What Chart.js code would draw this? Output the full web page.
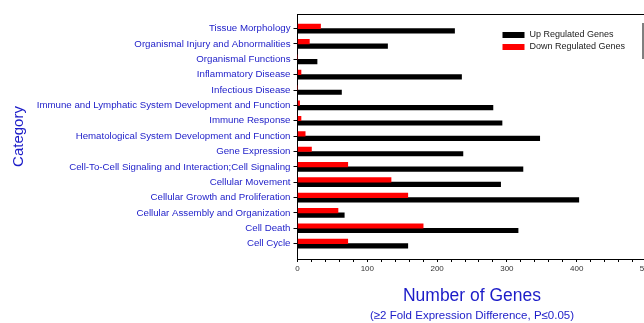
<!DOCTYPE html>
<html>
<head>
<meta charset="utf-8">
<script src="https://cdn.jsdelivr.net/npm/chart.js@4.4.0/dist/chart.umd.min.js"></script>
<style>
  html, body { margin: 0; padding: 0; background: #fff; overflow: hidden; }
  #wrap { width: 660px; height: 323px; }
</style>
</head>
<body>
<div id="wrap"><canvas id="c" width="660" height="323"></canvas></div>
<script>
// Functional categories, listed top to bottom
const categories = [
  'Tissue Morphology',
  'Organismal Injury and Abnormalities',
  'Organismal Functions',
  'Inflammatory Disease',
  'Infectious Disease',
  'Immune and Lymphatic System Development and Function',
  'Immune Response',
  'Hematological System Development and Function',
  'Gene Expression',
  'Cell-To-Cell Signaling and Interaction;Cell Signaling',
  'Cellular Movement',
  'Cellular Growth and Proliferation',
  'Cellular Assembly and Organization',
  'Cell Death',
  'Cell Cycle'
];

// Gene counts per category
const upRegulated   = [225, 129, 28, 235, 63, 280, 293, 347, 237, 323, 291, 403, 67, 316, 158];
const downRegulated = [33, 17, 0, 5, 0, 3, 5, 11, 20, 72, 134, 158, 58, 180, 72];

// Number-of-genes axis ticks (labelled) and minor tick step
const xTickLabels = [0, 100, 200, 300, 400, 500];
const xMinorStep = 20;

const BLUE = '#1c1cc8';
const FONT = 'Liberation Sans, Arial, sans-serif';

// Axis titles below the x axis and the frame/legend decorations
const decorations = {
  id: 'decorations',
  afterDraw(chart) {
    const { ctx, chartArea } = chart;
    ctx.save();
    // top frame line
    ctx.strokeStyle = '#000';
    ctx.lineWidth = 1;
    ctx.beginPath();
    ctx.moveTo(chartArea.left, chartArea.top + 0.5);
    ctx.lineTo(chartArea.right, chartArea.top + 0.5);
    ctx.stroke();

    // x axis titles
    const cx = (chartArea.left + chartArea.right) / 2;
    ctx.fillStyle = BLUE;
    ctx.textAlign = 'center';
    ctx.textBaseline = 'middle';
    ctx.font = '17.5px ' + FONT;
    ctx.fillText('Number of Genes', cx, chartArea.bottom + 37);
    ctx.font = '11.5px ' + FONT;
    ctx.fillText('(\u22652 Fold Expression Difference, P\u22640.05)', cx, chartArea.bottom + 57);

    // legend: up first, then down
    const order = [1, 0];
    const lx = chartArea.right - 144;
    let ly = chartArea.top + 18;
    ctx.textAlign = 'left';
    ctx.font = '9px ' + FONT;
    order.forEach(i => {
      const ds = chart.data.datasets[i];
      ctx.fillStyle = ds.backgroundColor;
      ctx.fillRect(lx, ly, 22, 6);
      ctx.fillStyle = '#222';
      ctx.fillText(ds.label, lx + 27, ly + 3);
      ly += 12;
    });
    // legend box edge
    ctx.strokeStyle = '#000';
    ctx.beginPath();
    ctx.moveTo(chartArea.right - 3.5, chartArea.top + 9);
    ctx.lineTo(chartArea.right - 3.5, chartArea.top + 45);
    ctx.stroke();
    ctx.restore();
  }
};

new Chart(document.getElementById('c'), {
  type: 'bar',
  data: {
    datasets: [
      {
        label: 'Down Regulated Genes',
        data: downRegulated.map((v, i) => ({ x: v, y: i })),
        backgroundColor: '#ff0000',
        barThickness: 4.5
      },
      {
        label: 'Up Regulated Genes',
        data: upRegulated.map((v, i) => ({ x: v, y: i })),
        backgroundColor: '#000000',
        barThickness: 4.5
      }
    ]
  },
  options: {
    indexAxis: 'y',
    responsive: false,
    animation: false,
    layout: { padding: { top: 14, right: 13.5, bottom: 0, left: 0 } },
    plugins: {
      legend: { display: false },
      tooltip: { enabled: false }
    },
    scales: {
      y: {
        type: 'linear',
        reverse: true,
        offset: false,
        min: -0.95,
        max: 15.0,
        afterBuildTicks(scale) {
          scale.ticks = categories.map((_, i) => ({ value: i }));
        },
        afterFit(scale) { scale.width = 297.5; },
        ticks: {
          autoSkip: false,
          padding: 3,
          color: BLUE,
          font: { family: FONT, size: 9.7 },
          callback: v => categories[v]
        },
        grid: { drawOnChartArea: false, offset: false, tickLength: 4, color: '#000' },
        border: { color: '#000', width: 1 },
        title: {
          display: true,
          text: 'Category',
          color: BLUE,
          font: { family: FONT, size: 15 },
          padding: { top: 10, bottom: 0 }
        }
      },
      x: {
        type: 'linear',
        min: xTickLabels[0],
        max: xTickLabels[xTickLabels.length - 1],
        afterBuildTicks(scale) {
          const t = [];
          for (let v = scale.min; v <= scale.max; v += xMinorStep) t.push({ value: v });
          scale.ticks = t;
        },
        afterFit(scale) { scale.height = 64; },
        ticks: {
          autoSkip: false,
          maxRotation: 0,
          padding: 2,
          color: '#333',
          font: { family: FONT, size: 8 },
          callback: v => xTickLabels.includes(v) ? String(v) : ''
        },
        grid: { drawOnChartArea: false, tickLength: 3, color: '#000' },
        border: { color: '#000', width: 1 }
      }
    }
  },
  plugins: [decorations]
});
</script>
</body>
</html>
